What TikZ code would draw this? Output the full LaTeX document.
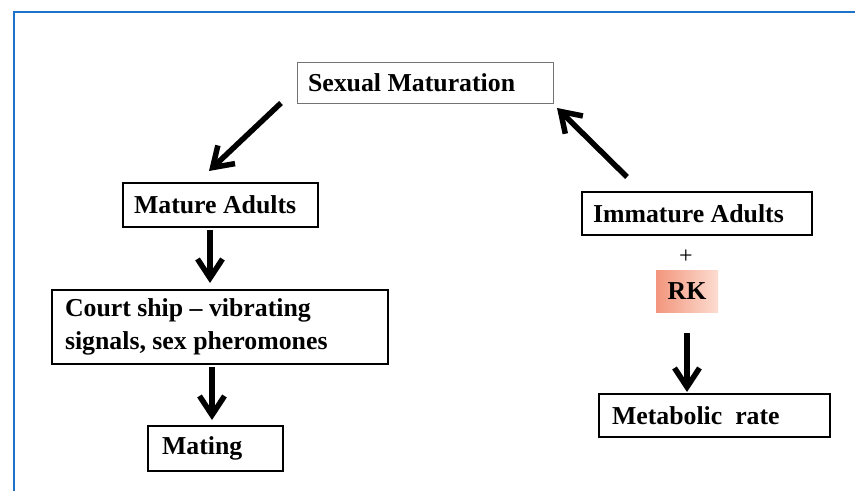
\documentclass[tikz,border=0pt]{standalone}
\usepackage{fontspec}
\setmainfont{Liberation Serif}
\usetikzlibrary{arrows.meta,positioning,calc}
\definecolor{framecol}{RGB}{30,115,200}
\definecolor{rkdark}{RGB}{243,150,125}
\definecolor{rklight}{RGB}{252,220,208}
\tikzset{
  % stage box, text left aligned
  stagebox/.style={rectangle, draw=black, line width=1.8pt, anchor=north west, align=flush left,
                   inner xsep=12pt, inner ysep=0pt, outer sep=0pt, text width=#1,
                   font=\fontsize{25.8}{33}\selectfont\bfseries},
  % thin box at the top
  topbox/.style={stagebox=#1, draw=black!55, line width=0.8pt, inner xsep=11pt},
  % shaded hormone box
  rkbox/.style={rectangle, left color=rkdark, right color=rklight, minimum width=62pt,
                minimum height=42pt, inner sep=0pt, font=\fontsize{25.8}{30}\selectfont\bfseries},
  % thick flow arrow
  flowarrow/.style={-{Straight Barb[length=19pt,width=25pt]}, line width=5.5pt},
}
\begin{document}
\begin{tikzpicture}[x=1pt,y=1pt]
  \useasboundingbox (0,0) rectangle (855,491);
  \draw[framecol, line width=2.5pt] (855,479) -- (14,479) -- (14,0);

  \node[topbox=234pt, minimum height=41pt] (sexmat) at (297,429) {Sexual Maturation};
  \node[stagebox=173pt, minimum height=44pt, inner xsep=11pt] (mature) at (123,308) {Mature Adults};
  \node[stagebox=310pt, minimum height=74pt, inner xsep=13pt] (court) at (52,201)
    {Court ship -- vibrating\\signals, sex pheromones};
  \node[stagebox=107pt, minimum height=45pt, inner xsep=14pt] (mating) at (148,65) {Mating};
  \node[stagebox=208pt, minimum height=43pt, inner xsep=11pt] (immature) at (582,299) {Immature Adults};
  \node[rkbox] (rk) at (687,200) {RK};
  \node[font=\fontsize{24}{26}\selectfont] (plus) at (686,234) {+};
  \node[stagebox=205pt, minimum height=43pt, inner xsep=13pt] (metab) at (599,97) {Metabolic\ \ rate};

  \draw[flowarrow] ([xshift=-16pt]sexmat.south west) -- ([shift={(-11.5pt,12pt)}]mature.north);
  \draw[flowarrow] ([xshift=-10.5pt,yshift=-3pt]mature.south) -- ([xshift=-10pt,yshift=7pt]court.north);
  \draw[flowarrow] ([xshift=-8pt,yshift=-3pt]court.south) -- ([xshift=-3.5pt,yshift=6pt]mating.north);
  \draw[flowarrow] ([yshift=-21pt]rk.south) -- ($(rk.south |- metab.north)+(0,2pt)$);
  \draw[flowarrow] ([shift={(-70pt,15pt)}]immature.north) -- ([shift={(4pt,-5pt)}]sexmat.south east);
\end{tikzpicture}
\end{document}
